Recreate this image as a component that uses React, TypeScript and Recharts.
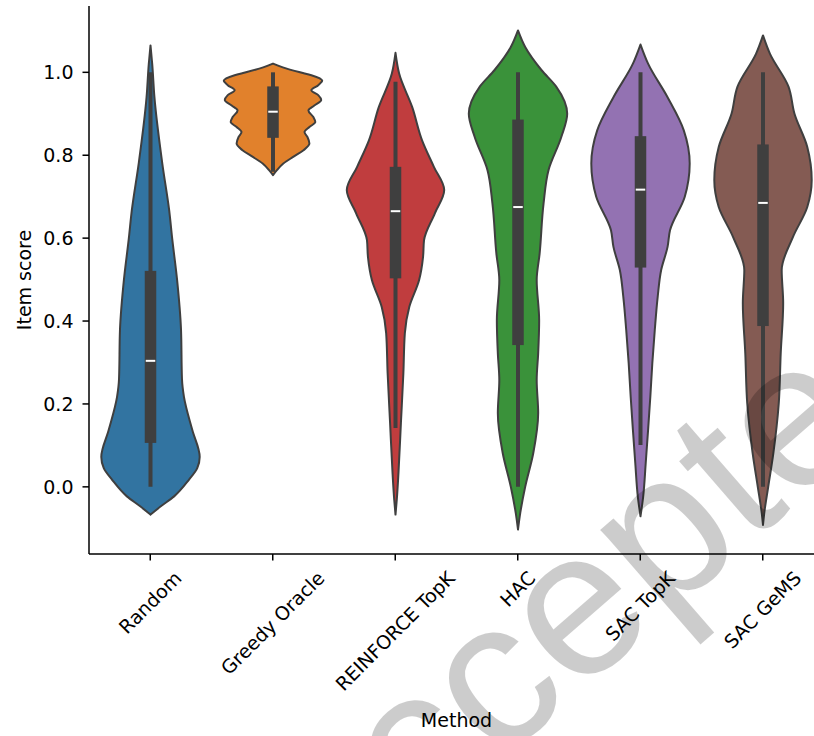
import React from 'react';
import { ComposedChart, Bar, XAxis, YAxis, Curve } from 'recharts';

const methods = ['Random', 'Greedy Oracle', 'REINFORCE TopK', 'HAC', 'SAC TopK', 'SAC GeMS'];
const violinColors = ['#3274a1', '#e1812c', '#c03d3e', '#3a923a', '#9372b2', '#845b53'];

// [score, relative density], top to bottom
const randomProfile = [
  [1.065, 0], [1.02, 0.035], [0.94, 0.08], [0.78, 0.24], [0.667, 0.38], [0.6, 0.44],
  [0.5, 0.54], [0.38, 0.62], [0.26, 0.64], [0.217, 0.68], [0.137, 0.85], [0.072, 1.0],
  [0.045, 0.95], [0.017, 0.78], [-0.023, 0.48], [-0.047, 0.21], [-0.067, 0],
];
const greedyProfile = [
  [1.021, 0], [1.012, 0.2], [1.0, 0.55], [0.993, 0.78], [0.98, 1.0], [0.969, 0.92],
  [0.957, 0.78], [0.945, 0.92], [0.933, 0.98], [0.92, 0.84], [0.908, 0.72], [0.892, 0.82],
  [0.88, 0.86], [0.868, 0.74], [0.856, 0.64], [0.844, 0.7], [0.828, 0.74], [0.812, 0.62],
  [0.796, 0.41], [0.78, 0.21], [0.764, 0.08], [0.752, 0],
];
const reinforceProfile = [
  [1.047, 0], [0.997, 0.074], [0.916, 0.34], [0.836, 0.54], [0.772, 0.78], [0.716, 0.99],
  [0.66, 0.8], [0.595, 0.58], [0.555, 0.56], [0.499, 0.48], [0.434, 0.28], [0.371, 0.19],
  [0.274, 0.16], [0.154, 0.11], [0.033, 0.06], [-0.031, 0.026], [-0.067, 0],
];
const hacProfile = [
  [1.101, 0], [1.061, 0.146], [1.005, 0.48], [0.965, 0.78], [0.9, 1.0], [0.844, 0.88],
  [0.764, 0.62], [0.684, 0.52], [0.563, 0.44], [0.499, 0.38], [0.402, 0.43], [0.322, 0.41],
  [0.258, 0.38], [0.178, 0.41], [0.081, 0.31], [0.0, 0.146], [-0.063, 0.046], [-0.103, 0],
];
const sacTopkProfile = [
  [1.067, 0], [1.021, 0.154], [0.94, 0.55], [0.86, 0.88], [0.78, 1.0], [0.7, 0.9],
  [0.619, 0.6], [0.579, 0.55], [0.523, 0.42], [0.459, 0.35], [0.378, 0.29], [0.298, 0.24],
  [0.218, 0.2], [0.137, 0.154], [0.057, 0.106], [-0.024, 0.054], [-0.071, 0],
];
const sacGemsProfile = [
  [1.089, 0], [1.045, 0.14], [0.965, 0.52], [0.9, 0.64], [0.82, 0.9], [0.74, 0.99],
  [0.675, 0.9], [0.603, 0.61], [0.523, 0.38], [0.443, 0.41], [0.322, 0.36], [0.201, 0.32],
  [0.081, 0.21], [0.0, 0.106], [-0.063, 0.026], [-0.092, 0],
];
const profiles = [randomProfile, greedyProfile, reinforceProfile, hacProfile, sacTopkProfile, sacGemsProfile];

// inner box
const whiskerLow = [0.0, 0.76, 0.142, 0.0, 0.101, 0.0];
const q1 = [0.106, 0.842, 0.503, 0.342, 0.529, 0.388];
const median = [0.304, 0.905, 0.665, 0.675, 0.717, 0.685];
const q3 = [0.521, 0.966, 0.772, 0.886, 0.846, 0.826];
const whiskerHigh = [1.0, 1.0, 0.977, 1.0, 1.0, 1.0];

const yTicks = [0, 0.2, 0.4, 0.6, 0.8, 1.0];

const FONT = "'DejaVu Sans', sans-serif";
const FS = 19;
const LINE = '#3f3f3f';

const rows = methods.map((name, i) => {
  const scores = profiles[i].map((p) => p[0]);
  return { name, idx: i, span: [Math.min(...scores), Math.max(...scores)] };
});

let ctx: CanvasRenderingContext2D | null = null;
const textWidth = (s: string) => {
  if (!ctx) ctx = document.createElement('canvas').getContext('2d');
  if (!ctx) return s.length * FS * 0.6;
  ctx.font = `${FS}px 'DejaVu Sans'`;
  return ctx.measureText(s).width;
};

const ViolinShape = (props: any) => {
  const { x, y, width, height, payload } = props;
  const i = payload.idx;
  const [lo, hi] = payload.span;
  const top = Math.min(y, y + height);
  const h = Math.abs(height);
  const py = (v: number) => top + ((hi - v) / (hi - lo)) * h;
  const cx = x + width / 2;
  const half = width * 0.4;
  const right = profiles[i].map(([s, d]) => ({ x: cx + d * half, y: py(s) }));
  const left = profiles[i].map(([s, d]) => ({ x: cx - d * half, y: py(s) }));
  const bw = 11.5;
  return (
    <g>
      <Curve
        type="monotone"
        layout="vertical"
        points={right}
        baseLine={left}
        fill={violinColors[i]}
        stroke={LINE}
        strokeWidth={2}
        strokeLinejoin="round"
      />
      <line x1={cx} x2={cx} y1={py(whiskerHigh[i])} y2={py(whiskerLow[i])} stroke={LINE} strokeWidth={4} />
      <rect x={cx - bw / 2} width={bw} y={py(q3[i])} height={py(q1[i]) - py(q3[i])} fill={LINE} />
      <line x1={cx - bw / 2 + 1} x2={cx + bw / 2 - 1} y1={py(median[i])} y2={py(median[i])} stroke="#fff" strokeWidth={2} />
    </g>
  );
};

const MethodTick = (props: any) => {
  const { x, y, payload } = props;
  const label = String(payload.value);
  const w = textWidth(label);
  const s = (w + 1.164 * FS) / (2 * Math.SQRT2);
  return (
    <g transform={`translate(${x},${y + s}) rotate(-45)`}>
      <text x={0} y={0.346 * FS} textAnchor="middle" fontSize={FS} fontFamily={FONT} fill="#000">
        {label}
      </text>
    </g>
  );
};

const App = () => {
  return (
    <div style={{ position: 'absolute', left: 0, top: 0, width: 814, height: 736, overflow: 'hidden', background: '#fff', fontFamily: FONT }}>
      <ComposedChart width={840} height={736} data={rows} margin={{ top: 6, right: 16, bottom: 0, left: 0 }} barCategoryGap={0}>
        <XAxis
          xAxisId="main"
          dataKey="name"
          type="category"
          height={182}
          interval={0}
          tickSize={6.5}
          tickMargin={6.5}
          tickLine={{ stroke: '#000', strokeWidth: 1.5 }}
          axisLine={{ stroke: '#000', strokeWidth: 1.5 }}
          tick={<MethodTick />}
          label={{
            content: (p: any) => (
              <text
                x={p.viewBox.x + p.viewBox.width / 2}
                y={p.viewBox.y + 173}
                textAnchor="middle"
                fontSize={FS}
                fontFamily={FONT}
                fill="#000"
              >
                Method
              </text>
            ),
          }}
        />
        <XAxis
          xAxisId="top"
          dataKey="name"
          type="category"
          orientation="top"
          height={0}
          tick={false}
          tickLine={false}
          axisLine={{ stroke: '#000', strokeWidth: 1.5 }}
        />
        <YAxis
          type="number"
          domain={[-0.162, 1.16]}
          allowDataOverflow
          ticks={yTicks}
          tickFormatter={(v: number) => v.toFixed(1)}
          width={89}
          tickSize={6.5}
          tickMargin={9}
          tickLine={{ stroke: '#000', strokeWidth: 1.5 }}
          axisLine={{ stroke: '#000', strokeWidth: 1.5 }}
          tick={{ fill: '#000', fontSize: FS, fontFamily: FONT }}
          label={{
            content: (p: any) => (
              <text
                transform={`translate(30.5,${p.viewBox.y + p.viewBox.height / 2}) rotate(-90)`}
                textAnchor="middle"
                fontSize={FS}
                fontFamily={FONT}
                fill="#000"
              >
                Item score
              </text>
            ),
          }}
        />
        <Bar xAxisId="main" dataKey="span" shape={<ViolinShape />} isAnimationActive={false} />
      </ComposedChart>
      <svg width={814} height={736} style={{ position: 'absolute', left: 0, top: 0, pointerEvents: 'none' }}>
        <text
          transform="translate(640,640) rotate(-41)"
          textAnchor="middle"
          fontSize={207}
          fontFamily="'Liberation Sans', Arial, sans-serif"
          fill="#000"
          fillOpacity={0.2}
        >
          Accepted
        </text>
      </svg>
    </div>
  );
};

export default App;
